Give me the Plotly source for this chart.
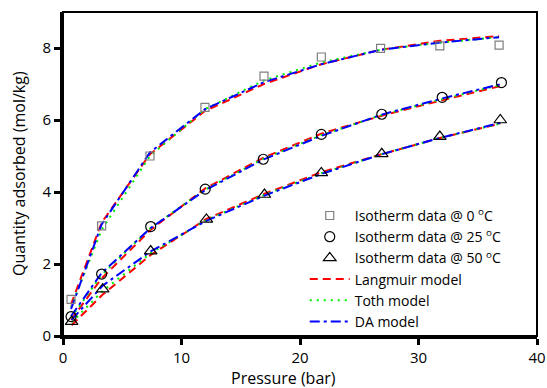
import plotly.graph_objects as go

# Pressures (bar) for each isotherm
p_0 = [0.68, 3.26, 7.34, 11.98, 16.96, 21.8, 26.8, 31.8, 36.8]
p_25 = [0.68, 3.26, 7.4, 12.0, 16.9, 21.8, 26.9, 32.0, 37.0]
p_50 = [0.73, 3.35, 7.4, 12.1, 17.0, 21.8, 26.9, 31.8, 36.9]

# Measured isotherm data (mol/kg)
q_0 = [1.02, 3.06, 5.0, 6.35, 7.22, 7.75, 7.99, 8.06, 8.08]
q_25 = [0.54, 1.72, 3.04, 4.08, 4.91, 5.6, 6.16, 6.63, 7.04]
q_50 = [0.40, 1.30, 2.36, 3.24, 3.93, 4.53, 5.06, 5.54, 6.0]

# Model fits (mol/kg)
lang_0 = [0.88, 3.15, 5.05, 6.25, 7.0, 7.55, 7.95, 8.2, 8.33]
lang_25 = [0.45, 1.6, 2.95, 4.1, 4.95, 5.62, 6.12, 6.55, 6.95]
lang_50 = [0.30, 1.15, 2.25, 3.25, 3.95, 4.55, 5.05, 5.5, 5.9]

toth_0 = [0.8, 2.95, 5.0, 6.3, 7.1, 7.6, 7.95, 8.15, 8.3]
toth_25 = [0.5, 1.7, 3.0, 4.07, 4.92, 5.58, 6.14, 6.58, 6.98]
toth_50 = [0.38, 1.25, 2.3, 3.22, 3.92, 4.52, 5.05, 5.5, 5.9]

da_0 = [0.75, 3.1, 5.1, 6.3, 7.05, 7.55, 7.95, 8.15, 8.3]
da_25 = [0.55, 1.75, 3.0, 4.05, 4.9, 5.56, 6.15, 6.6, 7.0]
da_50 = [0.45, 1.4, 2.35, 3.2, 3.9, 4.5, 5.05, 5.5, 5.92]

data_names = ["Isotherm data @ 0 <sup>o</sup>C", "Isotherm data @ 25 <sup>o</sup>C",
              "Isotherm data @ 50 <sup>o</sup>C"]
model_names = ["Langmuir model", "Toth model", "DA model"]

fig = go.Figure()

pressures = [p_0, p_25, p_50]
models = [
    (model_names[0], [lang_0, lang_25, lang_50], "#ff0000", "8px,5px", 4),
    (model_names[1], [toth_0, toth_25, toth_50], "#00ee00", "2px,5px", 5),
    (model_names[2], [da_0, da_25, da_50], "#0000ff", "10px,4px,3px,4px", 6),
]
for name, series, color, dash, rank in models:
    for i, (px, q) in enumerate(zip(pressures, series)):
        fig.add_trace(go.Scatter(
            x=px, y=q, mode="lines", name=name, legendgroup=name,
            showlegend=(i == 0), legendrank=rank,
            line=dict(color=color, width=2, dash=dash),
        ))

markers = [
    (data_names[0], p_0, q_0, "square-open", "#7f7f7f", 8, 1),
    (data_names[1], p_25, q_25, "circle-open", "#000000", 10, 2),
    (data_names[2], p_50, q_50, "triangle-up-open", "#000000", 11, 3),
]
for name, px, q, sym, color, size, rank in markers:
    fig.add_trace(go.Scatter(
        x=px, y=q, mode="markers", name=name, legendrank=rank,
        marker=dict(symbol=sym, size=size, color=color, line=dict(width=1.2, color=color)),
    ))

axis_common = dict(
    showgrid=False, zeroline=False, showline=True, linewidth=3, linecolor="black",
    ticks="outside", ticklen=6, tickwidth=2.5, tickcolor="black",
    tickfont=dict(family="Open Sans", size=15, color="black"),
)
fig.update_xaxes(range=[0, 40], tickvals=[0, 10, 20, 30, 40], **axis_common)
fig.update_yaxes(range=[0, 9], tickvals=[0, 2, 4, 6, 8], **axis_common)

fig.add_shape(type="rect", xref="paper", yref="paper", x0=0, y0=0, x1=1, y1=1,
              line=dict(color="black", width=2), layer="above")

fig.add_annotation(text="Pressure (bar)", xref="paper", yref="paper", x=0.465, y=0,
                   yshift=-30, showarrow=False, xanchor="center", yanchor="top", borderpad=0,
                   font=dict(family="Open Sans", size=16, color="black"))
fig.add_annotation(text="Quantity adsorbed (mol/kg)", xref="paper", yref="paper", x=0, y=0.5,
                   xshift=-44, showarrow=False, xanchor="center", yanchor="middle", textangle=-90,
                   font=dict(family="Open Sans", size=16, color="black"))

fig.update_layout(
    width=547, height=388,
    margin=dict(l=63, r=10, t=12, b=52, autoexpand=False),
    paper_bgcolor="white", plot_bgcolor="white",
    showlegend=True,
    legend=dict(x=0.51, y=0.42, xanchor="left", yanchor="top", bgcolor="rgba(0,0,0,0)",
                font=dict(family="Open Sans", size=14, color="black"),
                tracegroupgap=0, itemwidth=40, traceorder="normal"),
)

fig.write_html("out.html", config={"displayModeBar": False},
               post_script="document.body.style.margin='0';")
